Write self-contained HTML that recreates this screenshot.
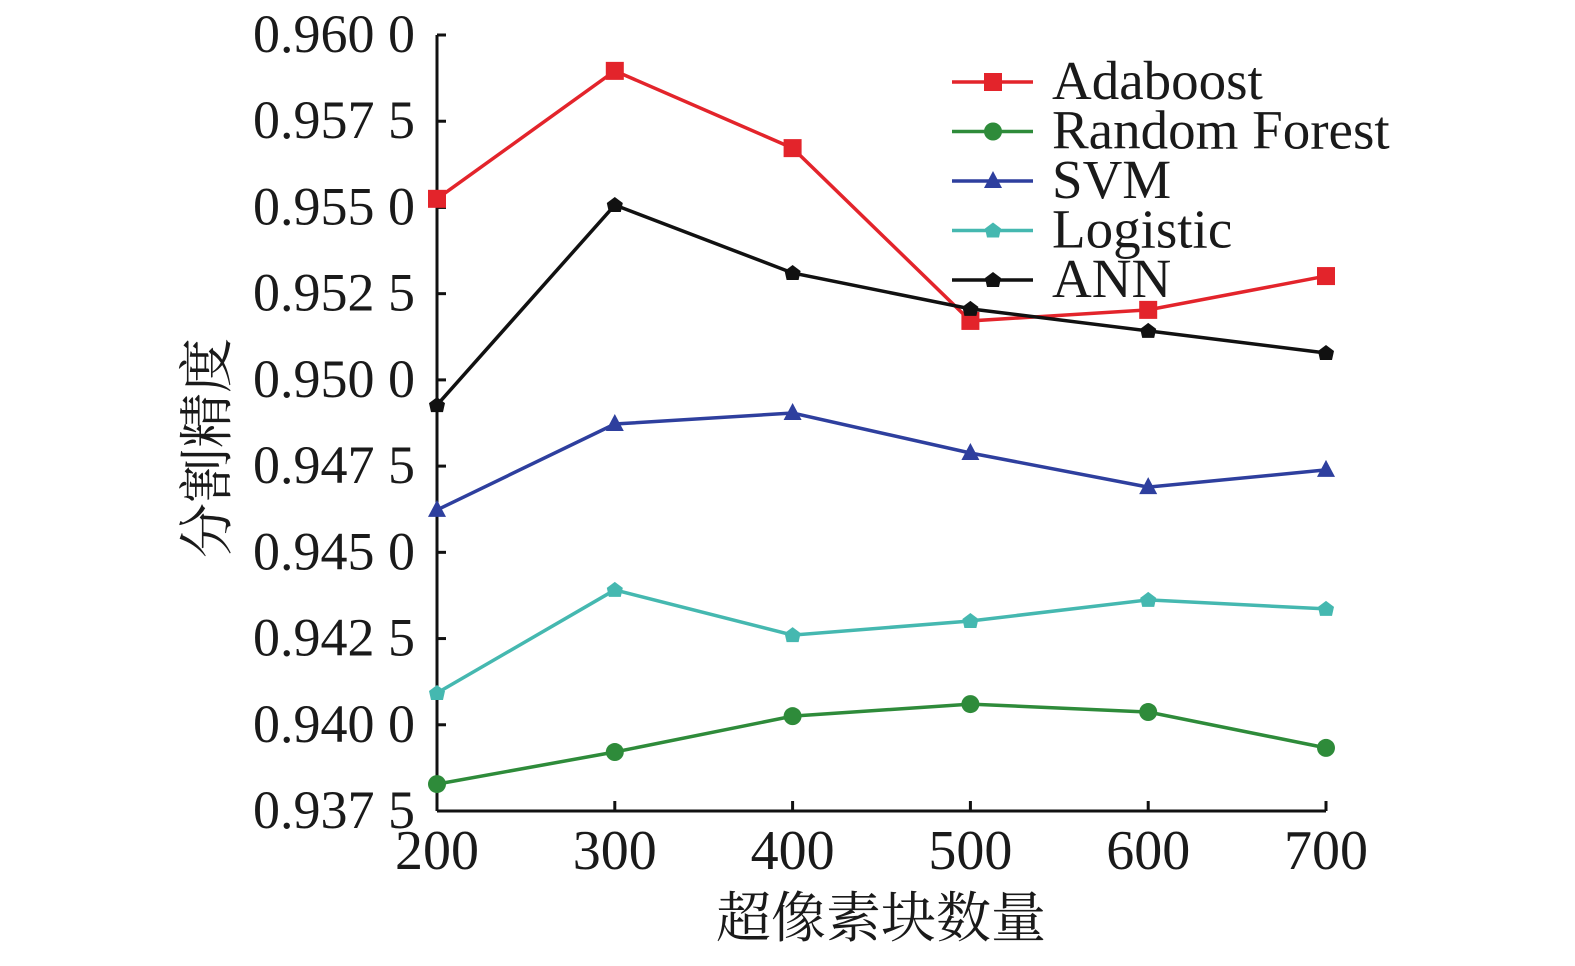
<!DOCTYPE html>
<html><head><meta charset="utf-8"><style>
html,body{margin:0;padding:0;background:#fff;}
svg text{font-family:"Liberation Serif","Noto Serif CJK SC",serif;fill:#1a1a1a;}
</style></head><body>
<svg id="chart" width="1575" height="961" xmlns="http://www.w3.org/2000/svg"></svg>
<script>
const categories=[200,300,400,500,600,700];
const yTicks=[0.9375,0.94,0.9425,0.945,0.9475,0.95,0.9525,0.955,0.9575,0.96];
const yTickLabels=["0.937 5","0.940 0","0.942 5","0.945 0","0.947 5","0.950 0","0.952 5","0.955 0","0.957 5","0.960 0"];
const seriesNames=["Adaboost","Random Forest","SVM","Logistic","ANN"];
const adaboost=[0.95525,0.95896,0.95672,0.95171,0.95203,0.95301];
const randomForest=[0.93828,0.93921,0.94025,0.94060,0.94037,0.93933];
const svm=[0.94623,0.94872,0.94904,0.94788,0.94689,0.94739];
const logistic=[0.94092,0.94391,0.94260,0.94301,0.94362,0.94336];
const ann=[0.94927,0.95507,0.95310,0.95206,0.95142,0.95078];
const colors=["#e3242b","#2e8b3a","#2e3f9e","#45b8b0","#111111"];
const markers=["square","circle","triangle","diamond","pentagon"];
const allSeries=[adaboost,randomForest,svm,logistic,ann];

const NS="http://www.w3.org/2000/svg";
const svg=document.getElementById('chart');
const X0=437,X1=1326,Y0=811,Y1=35;
const xs=v=>X0+(v-200)/500*(X1-X0);
const ys=v=>Y0-(v-0.9375)/0.0225*(Y0-Y1);
function el(t,a,p){const e=document.createElementNS(NS,t);for(const k in a)e.setAttribute(k,a[k]);(p||svg).appendChild(e);return e;}
function marker(g,type,x,y,c){
 let e;
 if(type==="square")e=el('rect',{x:x-9,y:y-9,width:18,height:18,fill:c},g);
 else if(type==="circle")e=el('circle',{cx:x,cy:y,r:9,fill:c},g);
 else if(type==="triangle")e=el('polygon',{points:`${x},${y-10} ${x+9},${y+7} ${x-9},${y+7}`,fill:c},g);
 else e=el('polygon',{points:`${x},${y-8} ${x+8},${y-2} ${x+6},${y+7} ${x-6},${y+7} ${x-8},${y-2}`,fill:c},g);
 return e;
}
const ax=el('g',{});


el('line',{x1:X0,y1:Y1,x2:X0,y2:Y0,stroke:'#111','stroke-width':3},ax);
el('line',{x1:X0,y1:Y0,x2:X1,y2:Y0,stroke:'#111','stroke-width':3},ax);
yTicks.forEach((v,i)=>{
 el('line',{x1:X0,y1:ys(v),x2:X0+9,y2:ys(v),stroke:'#111','stroke-width':3},ax);
 const t=el('text',{x:X0-22,y:ys(v)+17,'text-anchor':'end','font-size':54},ax);
 t.textContent=yTickLabels[i];
 
 
});
categories.forEach(c=>{
 el('line',{x1:xs(c),y1:Y0,x2:xs(c),y2:Y0-10,stroke:'#111','stroke-width':3},ax);
 const t=el('text',{x:xs(c),y:Y0+58,'text-anchor':'middle','font-size':56},ax);
 t.textContent=c;
 
 
});
const xt=el('text',{x:881,y:937,'text-anchor':'middle','font-size':55});
xt.textContent="超像素块数量";


const yt=el('text',{x:0,y:0,'text-anchor':'middle','font-size':55,transform:'translate(226,448) rotate(-90)'});
yt.textContent="分割精度";


allSeries.forEach((s,si)=>{
 const g=el('g',{});
 
 
 el('polyline',{points:s.map((v,i)=>xs(categories[i])+','+ys(v)).join(' '),fill:'none',stroke:colors[si],'stroke-width':3.5},g);
 s.forEach((v,i)=>{
  const m=marker(g,markers[si],xs(categories[i]),ys(v),colors[si]);
  
  
 });
});
const lg=el('g',{});


seriesNames.forEach((n,i)=>{
 const y=82+i*49.5;
 const e=el('g',{},lg);
 
 
 el('line',{x1:952,y1:y,x2:1033,y2:y,stroke:colors[i],'stroke-width':3.5},e);
 marker(e,markers[i],993,y,colors[i]);
 const t=el('text',{x:1052,y:y+17,'font-size':55},e);
 t.textContent=n;
});
</script>
</body></html>
